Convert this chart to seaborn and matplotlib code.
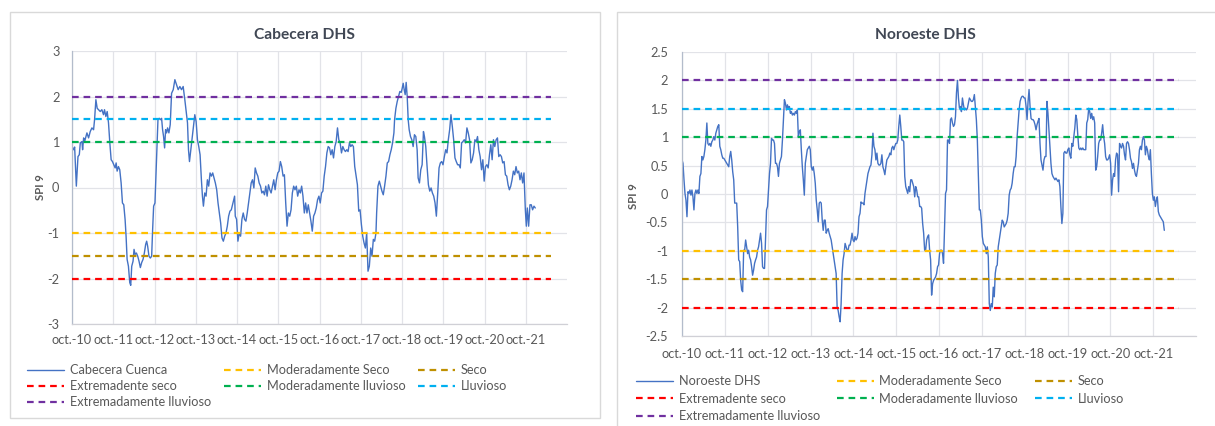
import matplotlib
matplotlib.use('Agg')
import matplotlib.pyplot as plt
import seaborn as sns
import numpy as np
import pandas as pd
from matplotlib.patches import Rectangle
from matplotlib.ticker import FuncFormatter

# SPI 9, Cabecera DHS (years counted from oct.-10)
cabecera_t = [
    0.000, 0.040, 0.064, 0.105, 0.145, 0.177, 0.201, 0.241, 0.257, 0.282,
    0.306, 0.338, 0.362, 0.402, 0.442, 0.483, 0.523, 0.547, 0.579, 0.611,
    0.644, 0.684, 0.724, 0.764, 0.788, 0.821, 0.853, 0.885, 0.917, 0.949,
    0.981, 1.014, 1.046, 1.070, 1.094, 1.126, 1.158, 1.191, 1.223, 1.255,
    1.287, 1.311, 1.336, 1.368, 1.400, 1.424, 1.448, 1.480, 1.504, 1.529,
    1.561, 1.593, 1.625, 1.657, 1.689, 1.722, 1.754, 1.786, 1.810, 1.834,
    1.866, 1.899, 1.931, 1.955, 1.979, 2.011, 2.035, 2.060, 2.084, 2.116,
    2.148, 2.172, 2.196, 2.220, 2.245, 2.269, 2.293, 2.317, 2.349, 2.381,
    2.414, 2.454, 2.494, 2.534, 2.574, 2.615, 2.655, 2.695, 2.735, 2.767,
    2.800, 2.824, 2.848, 2.880, 2.912, 2.944, 2.977, 3.009, 3.041, 3.073,
    3.105, 3.137, 3.162, 3.186, 3.218, 3.250, 3.282, 3.314, 3.347, 3.379,
    3.411, 3.443, 3.475, 3.508, 3.540, 3.572, 3.604, 3.636, 3.669, 3.701,
    3.733, 3.765, 3.797, 3.829, 3.862, 3.902, 3.942,
    3.958, 3.990, 4.022, 4.055, 4.087, 4.119, 4.151, 4.183, 4.216, 4.248,
    4.280, 4.312, 4.344, 4.376, 4.409, 4.441, 4.473, 4.505, 4.537, 4.570,
    4.602, 4.634, 4.666, 4.698, 4.730, 4.763, 4.795, 4.827, 4.859, 4.891,
    4.924, 4.956, 4.988, 5.020, 5.052, 5.084, 5.117, 5.149, 5.181, 5.213,
    5.245, 5.278, 5.310, 5.342, 5.374, 5.406, 5.438, 5.471, 5.503, 5.535,
    5.567, 5.599, 5.632, 5.664, 5.696, 5.728, 5.760, 5.792, 5.825, 5.857,
    5.889, 5.921, 5.953, 5.986, 6.018, 6.050, 6.082, 6.114, 6.146, 6.179,
    6.211, 6.243, 6.275, 6.307, 6.340, 6.372, 6.404, 6.436, 6.468, 6.500,
    6.533, 6.565, 6.597, 6.629, 6.661, 6.693, 6.726, 6.758, 6.790, 6.822,
    6.854, 6.887, 6.919, 6.951, 6.983, 7.015, 7.048, 7.080, 7.112, 7.144,
    7.176, 7.208, 7.241, 7.273, 7.305, 7.337, 7.369, 7.385,
    7.417, 7.450, 7.482, 7.514, 7.546, 7.578, 7.611, 7.643, 7.675, 7.707,
    7.739, 7.771, 7.804,
    7.820, 7.852, 7.884, 7.916, 7.948, 7.981, 8.005, 8.029, 8.053, 8.077,
    8.101, 8.126, 8.150, 8.174, 8.206, 8.238, 8.270, 8.302, 8.335, 8.367,
    8.391, 8.423, 8.455, 8.488, 8.520, 8.544, 8.576, 8.608, 8.640, 8.673,
    8.705, 8.737, 8.769, 8.801, 8.833, 8.866, 8.898, 8.930, 8.962, 8.994,
    9.027, 9.059, 9.091, 9.123, 9.155, 9.187, 9.220, 9.252, 9.284, 9.316,
    9.348, 9.381, 9.413, 9.445, 9.477, 9.509, 9.541, 9.574, 9.606, 9.638,
    9.670, 9.702, 9.735, 9.767, 9.799, 9.831, 9.863, 9.895, 9.928, 9.960,
    9.992, 10.024, 10.056, 10.089, 10.121, 10.153, 10.185, 10.217, 10.249, 10.282,
    10.314, 10.346, 10.378, 10.410, 10.442, 10.475, 10.507, 10.539, 10.571, 10.603,
    10.636, 10.668, 10.700, 10.732, 10.764, 10.796, 10.829, 10.861, 10.893, 10.925,
    10.957, 10.990, 11.014, 11.038, 11.070, 11.102, 11.134, 11.166, 11.199, 11.231,
]
cabecera_spi = [
    0.90, 0.83, 0.89, 0.03, 0.68, 0.72, 0.98, 1.01, 0.83, 1.09,
    1.01, 1.12, 1.20, 1.09, 1.23, 1.31, 1.27, 1.49, 1.93, 1.74,
    1.71, 1.67, 1.71, 1.60, 1.71, 1.56, 1.67, 1.42, 0.98, 0.61,
    0.57, 0.50, 0.43, 0.54, 0.36, 0.46, 0.39, 0.10, -0.34, -0.38,
    -0.70, -1.07, -1.58, -1.73, -2.09, -2.15, -1.73, -1.62, -1.36, -1.47,
    -1.44, -1.51, -1.62, -1.76, -1.65, -1.58, -1.44, -1.25, -1.18, -1.29,
    -1.51, -1.55, -1.51, -0.92, -0.41, -0.34, 0.25, 0.90, 1.49, 1.52,
    1.49, 1.52, 1.27, 1.12, 0.87, 1.27, 1.20, 1.31, 1.20, 1.38,
    2.07, 2.15, 2.37, 2.26, 2.15, 2.22, 2.15, 2.22, 1.93, 1.67,
    1.42, 0.83, 0.57, 0.83, 1.09, 1.34, 1.60, 1.45, 1.05, 0.90,
    0.72, 0.17, -0.19, -0.41, -0.12, -0.19, 0.17, 0.03, 0.32, 0.25,
    0.32, 0.21, 0.10, -0.05, -0.34, -0.56, -0.78, -1.11, -1.18, -1.07,
    -1.00, -0.85, -0.63, -0.52, -0.49, -0.34, -0.19,
    -0.63, -0.70, -1.18, -1.00, -1.07, -0.70, -0.56, -0.70, -0.74, -0.56,
    -0.34, -0.12, 0.10, 0.17, -0.01, 0.43, 0.32, 0.25, 0.10, 0.03,
    -0.12, -0.08, -0.16, 0.03, -0.19, 0.06, -0.05, -0.12, 0.03, 0.17,
    -0.05, 0.17, 0.32, 0.36, 0.57, 0.46, 0.25, 0.28, -0.34, -0.85,
    -0.56, -0.63, -0.49, -0.12, 0.03, -0.05, 0.03, -0.19, -0.05, -0.12,
    0.03, -0.19, -0.56, -0.34, -0.56, -0.38, -0.56, -0.74, -0.96, -0.63,
    -0.56, -0.45, -0.27, -0.19, -0.34, -0.12, -0.08, 0.25, 0.46, 0.76,
    0.90, 0.87, 0.72, 0.83, 0.65, 0.90, 1.01, 1.31, 1.05, 0.98,
    0.76, 0.90, 0.83, 0.79, 0.83, 0.79, 0.98, 0.90, 0.94, 0.90,
    0.46, 0.25, 0.06, -0.52, -0.49, -0.81, -1.07, -1.22, -1.33, -1.00,
    -1.84, -1.73, -1.33, -1.51, -1.14, -1.18, -1.00, -0.56,
    0.03, 0.14, 0.03, -0.08, -0.16, 0.03, 0.25, 0.54, 0.57, 0.72,
    0.83, 0.98, 1.20,
    1.49, 1.74, 1.89, 2.00, 2.11, 2.09, 2.18, 2.29, 2.15, 2.04,
    2.31, 2.00, 1.49, 1.27, 1.12, 1.05, 0.90, 1.16, 1.12, 0.83,
    0.21, 0.10, 0.39, 0.50, 1.23, 1.12, 0.90, 0.46, 0.06, -0.08,
    -0.01, -0.12, -0.19, -0.34, -0.63, -0.12, 0.43, 0.54, 0.57, 0.50,
    0.68, 0.83, 0.76, 1.05, 1.27, 1.60, 1.34, 1.05, 0.65, 0.57,
    0.50, 0.50, 0.43, 0.98, 1.01, 1.05, 0.98, 1.31, 1.20, 1.05,
    0.54, 0.61, 0.76, 1.05, 1.01, 1.12, 0.83, 0.68, 0.39, 0.61,
    0.14, 0.46, 0.50, 0.43, 0.72, 0.94, 0.61, 1.05, 0.90, 1.05,
    1.09, 0.68, 0.72, 0.68, 0.54, 0.57, 0.28, 0.25, 0.06, -0.05,
    0.03, 0.17, 0.36, 0.28, 0.46, 0.32, 0.36, 0.17, 0.32, 0.10,
    0.32, -0.49, -0.85, -0.45, -0.85, -0.38, -0.38, -0.49, -0.41, -0.45,
]

# SPI 9, Noroeste DHS (regular steps between first and last reading)
noroeste_inicio = 0.0
noroeste_fin = 11.26
noroeste_spi = [
    0.60, 0.54, 0.25, 0.01, -0.11, -0.40, 0.04, 0.01, 0.07, -0.02,
    0.07, -0.05, -0.28, 0.01, 0.07, 0.01, 0.07, 0.01, 0.31, 0.36,
    0.66, 0.60, 0.66, 0.78, 0.95, 1.25, 0.89, 0.86, 0.89, 0.84,
    0.92, 0.95, 1.01, 0.95, 1.07, 1.13, 1.19, 1.22, 0.84, 0.78,
    0.69, 0.63, 0.63, 0.60, 0.57, 0.54, 0.51, 0.48, 0.66, 0.75,
    0.60, 0.39, 0.25, -0.16, -0.16, -0.16, -0.58, -1.16, -1.19, -1.52,
    -1.69, -1.72, -0.99, -0.99, -0.81, -0.93, -1.05, -0.99, -1.11, -1.16,
    -1.28, -1.43, -1.34, -1.22, -1.16, -1.11, -0.99, -0.93, -0.81, -0.69,
    -0.87, -1.28, -1.31, -1.31, -0.81, -0.28, -0.22, 0.07, 0.36, 0.54,
    0.98, 0.95, 0.95, 0.89, 0.54, 0.54, 0.48, 0.31, 0.54, 0.60,
    0.66, 0.95, 1.31, 1.66, 1.60, 1.48, 1.57, 1.51, 1.54, 1.42,
    1.45, 1.39, 1.42, 1.39, 1.45, 1.42, 1.48, 1.01, 1.10, 1.13,
    0.78, 0.48, 0.25, -0.02, 0.54, 0.66, 0.78, 0.81, 0.84, 0.78,
    0.48, 0.42, 0.48, 0.36, 0.19, -0.11, -0.28, -0.49, -0.16, -0.14,
    -0.16, -0.46, -0.64, -0.46, -0.46, -0.69, -0.64, -0.61, -0.69, -0.75,
    -0.81, -0.93, -1.05, -1.16, -1.28, -1.40, -1.99, -2.05, -2.16, -2.25,
    -1.93, -1.40, -1.16, -1.05, -0.87, -0.93, -0.99, -0.99, -0.90,
    -0.90, -0.81, -0.69, -0.81, -0.84, -0.75, -0.81, -0.78, -0.69, -0.40,
    -0.34, -0.14, -0.16, -0.16, -0.19, 0.01, 0.13, 0.25, 0.36, 0.42,
    0.48, 0.51, 0.69, 1.07, 0.84, 0.78, 0.60, 0.72, 0.54, 0.51,
    0.51, 0.54, 0.69, 0.48, 0.42, 0.34, 0.48, 0.60, 0.63, 0.66,
    0.72, 0.69, 0.81, 0.84, 0.78, 0.84, 0.89, 0.89, 0.95, 1.19,
    1.39, 1.19, 0.95, 0.95, 0.92, 0.31, 0.13, 0.07, 0.01, 0.13,
    0.04, 0.25, 0.25, 0.19, 0.13, -0.05, 0.13, 0.07, -0.05, -0.05,
    -0.22, -0.22, -0.25, -0.52, -0.69, -0.99, -0.99, -0.81, -0.75, -0.72,
    -0.99, -1.16, -1.78, -1.58, -1.52, -1.49, -1.46, -1.40, -1.28, -1.25,
    -1.05, -0.99, -0.99, -1.05, -1.22, -0.58, 0.01, 0.07, 0.95, 0.95,
    0.89, 1.31, 1.34, 1.25, 1.19, 1.22, 1.36, 1.78, 2.00, 1.69,
    1.51, 1.54, 1.45, 1.69, 1.57, 1.48, 1.51, 1.48, 1.51, 1.60,
    1.69, 1.66, 1.63, 1.63, 1.66, 1.75, 1.54, 1.31, 0.95, 0.36,
    -0.28, -0.28, -0.46, -0.75, -0.87, -0.90, -0.93, -1.05, -0.93, -1.11,
    -1.93, -2.05, -1.93, -1.99, -1.64, -1.81, -1.40, -1.28, -1.25, -0.93,
    -0.81, -0.69, -0.58, -0.46, -0.49, -0.58, -0.55, -0.52, -0.46, -0.34,
    -0.02, 0.07, 0.10, 0.19, 0.36, 0.48,
    0.48, 0.66, 1.01, 1.25, 1.48, 1.63, 1.69, 1.72, 1.72, 1.69,
    1.69, 1.54, 1.31, 1.63, 1.84, 1.54, 1.33, 1.31, 1.31, 1.28,
    1.22, 1.13, 1.22, 1.28, 1.33, 0.89, 0.60, 0.51, 0.42, 0.60,
    0.66, 0.66, 1.63, 1.42, 1.13, 0.84, 0.54, 0.36, 0.31, 0.28,
    0.25, 0.28, 0.25, 0.22, 0.25, 0.13, -0.22, -0.52, -0.34, 0.72,
    0.75, 0.72, 0.72, 0.78, 0.81, 0.69, 0.63, 0.89, 0.84, 1.01,
    1.16, 1.39, 1.31, 1.04, 0.81, 0.78, 0.81, 0.78, 0.81, 0.78,
    0.78, 0.78, 1.25, 1.31, 1.51, 1.45, 1.33, 1.42, 1.31, 1.36,
    1.25, 0.42, 0.48, 0.66, 0.89, 0.95, 0.95, 1.07, 1.22, 1.01,
    0.89, 0.66, 0.60, 0.60, 0.63, 0.69, 0.54, -0.02, 0.25, 0.36,
    0.31, 0.60, 0.72, 0.69, 0.04, 0.89, 0.84, 0.81, 0.89, 0.84,
    0.69, 0.60, 0.89, 0.92, 0.89, 0.78, 0.63, 0.57, 0.45, 0.54,
    0.42, 0.34, 0.31, 0.42, 0.54, 0.78, 0.84, 0.78, 0.95, 1.01,
    0.95, 0.69, 0.84, 0.78, 0.66, 0.60, 0.78, 0.36, 0.01, -0.11,
    -0.05, -0.22, -0.11, -0.05, -0.31, -0.37, -0.40, -0.43, -0.46, -0.49,
    -0.64,
]

anios = ['oct.-10', 'oct.-11', 'oct.-12', 'oct.-13', 'oct.-14', 'oct.-15',
         'oct.-16', 'oct.-17', 'oct.-18', 'oct.-19', 'oct.-20', 'oct.-21']

# umbrales in legend row order
umbral_nombres = ['Moderadamente Seco', 'Seco', 'Extremadente seco',
                  'Moderadamente lluvioso', 'Lluvioso', 'Extremadamente lluvioso']
umbral_valores = [-1.0, -1.5, -2.0, 1.0, 1.5, 2.0]
umbral_colores = ['#FFC000', '#BF9000', '#FF0000', '#00B050', '#00B0F0', '#7030A0']
umbral_fin = 11.6

sns.set_theme(style='white')
plt.rcParams['font.family'] = ['Lato', 'DejaVu Sans']

TXT = '#595959'
W, H = 1215, 426
FS = 9.2

fig = plt.figure(figsize=(W / 100, H / 100), dpi=100)

# panel frames, like the two chart areas
fig.patches.append(Rectangle((10 / W, 1 - 418 / H), 590 / W, 406 / H, transform=fig.transFigure,
                             fill=False, edgecolor='#D9D9D9', lw=1.0))
fig.patches.append(Rectangle((617 / W, -0.02), 600 / W, 1 - 12 / H + 0.02, transform=fig.transFigure,
                             fill=False, edgecolor='#D9D9D9', lw=1.0))


def draw_panel(rect, t, spi, serie, titulo, ylim, ystep, title_xy, ylab_xy, leg_xy,
               xpad, ypad, colsp, labsp):
    ax = fig.add_axes(rect)
    df = pd.DataFrame({'t': t, 'spi': spi})
    sns.lineplot(data=df, x='t', y='spi', ax=ax, color='#4472C4', lw=1.0,
                 estimator=None, sort=False, label=serie, zorder=2)
    for nombre, val, col in zip(umbral_nombres, umbral_valores, umbral_colores):
        ax.plot([0, umbral_fin], [val, val], color=col, lw=1.6, ls='--',
                dashes=(3.0, 2.2), label=nombre, zorder=3)

    ax.set_xlim(0, 12)
    ax.set_ylim(*ylim)
    ax.set_xticks(range(len(anios)))
    ax.set_xticklabels(anios)
    ax.set_yticks(np.arange(ylim[0], ylim[1] + ystep / 2, ystep))
    ax.yaxis.set_major_formatter(FuncFormatter(lambda v, _: f'{v:g}'))
    ax.tick_params(axis='x', length=0, pad=xpad, labelsize=FS, labelcolor=TXT)
    ax.tick_params(axis='y', length=0, pad=ypad, labelsize=FS, labelcolor=TXT)
    ax.set_xlabel('')
    ax.set_ylabel('')
    ax.grid(True, color='#E2E3E8', lw=0.9)
    ax.set_axisbelow(True)
    for s in ['top', 'right']:
        ax.spines[s].set_visible(False)
    ax.spines['left'].set_color('#B3BCCB')
    ax.spines['bottom'].set_color('#D0D0D6')
    ax.spines['left'].set_linewidth(0.9)
    ax.spines['bottom'].set_linewidth(0.9)

    fig.text(title_xy[0] / W, 1 - title_xy[1] / H, titulo, ha='center', va='center',
             fontsize=11.2, fontweight='bold', color='#404754')
    fig.text(ylab_xy[0] / W, 1 - ylab_xy[1] / H, 'SPI 9', ha='center', va='center',
             rotation=90, fontsize=8.2, fontweight='bold', color=TXT)

    handles, labels = ax.get_legend_handles_labels()
    orden = [0, 3, 6, 1, 4, 2, 5]
    ax.legend([handles[i] for i in orden], [labels[i] for i in orden], ncol=3,
              loc='upper left', bbox_to_anchor=(leg_xy[0] / W, 1 - leg_xy[1] / H),
              bbox_transform=fig.transFigure, frameon=False, fontsize=FS,
              handlelength=2.9, handletextpad=0.45, columnspacing=colsp,
              labelspacing=labsp, borderpad=0, borderaxespad=0, labelcolor=TXT)
    return ax


draw_panel([72 / W, 1 - 324 / H, 495 / W, 273 / H], cabecera_t, cabecera_spi,
           'Cabecera Cuenca', 'Cabecera DHS', (-3, 3), 1.0,
           (305, 35), (40, 187), (27, 364), 7.0, 9.0, 1.0, 0.33)

noroeste_t = np.linspace(noroeste_inicio, noroeste_fin, len(noroeste_spi))
draw_panel([682 / W, 1 - 336 / H, 514 / W, 284 / H], noroeste_t, noroeste_spi,
           'Noroeste DHS', 'Noroeste DHS', (-2.5, 2.5), 0.5,
           (925, 35), (633, 196), (636, 375), 8.5, 10.0, 1.3, 0.45)

fig.savefig('out.png', dpi=100)
